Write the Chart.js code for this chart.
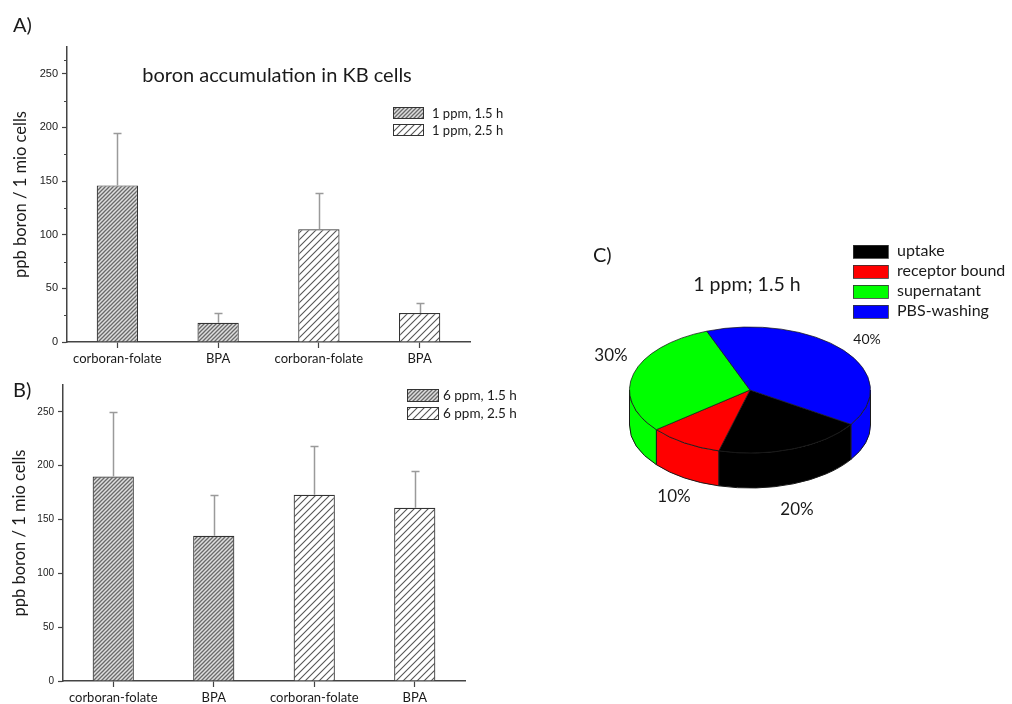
<!DOCTYPE html>
<html>
<head>
<meta charset="utf-8">
<title>Boron accumulation in KB cells</title>
<script src="https://cdn.jsdelivr.net/npm/chart.js@4.4.1/dist/chart.umd.min.js"></script>
<style>
  html, body { margin: 0; padding: 0; background: #fff; }
  #page { position: relative; width: 1012px; height: 704px; overflow: hidden; background: #fff; }
  canvas { position: absolute; }
  .tag { position: absolute; font-family: Lato, 'Open Sans', sans-serif; font-size: 20px; line-height: 1; color: #1a1a1a; }
</style>
</head>
<body>
<div id="page">
  <canvas id="chartA" width="540" height="370" style="left:0;top:0"></canvas>
  <canvas id="chartB" width="540" height="334" style="left:0;top:370px"></canvas>
  <canvas id="chartC" width="432" height="300" style="left:580px;top:230px"></canvas>
  <div class="tag" style="left:13px;top:14px">A)</div>
  <div class="tag" style="left:13px;top:379px">B)</div>
  <div class="tag" style="left:593px;top:244px">C)</div>
</div>
<script>
// ---- data -------------------------------------------------------------
const categories = ['corboran-folate', 'BPA', 'corboran-folate', 'BPA'];
const yTicks = [0, 50, 100, 150, 200, 250];

// A) 1 ppm
const seriesA15 = [146, 18, null, null];   // 1 ppm, 1.5 h
const errorA15  = [49, 9, null, null];
const seriesA25 = [null, null, 105, 27];   // 1 ppm, 2.5 h
const errorA25  = [null, null, 34, 9];

// B) 6 ppm
const seriesB15 = [190, 135, null, null];  // 6 ppm, 1.5 h
const errorB15  = [60, 38, null, null];
const seriesB25 = [null, null, 173, 161];  // 6 ppm, 2.5 h
const errorB25  = [null, null, 45, 34];

// C) distribution at 1 ppm; 1.5 h (percent)
const pieLabels = ['uptake', 'receptor bound', 'supernatant', 'PBS-washing'];
const pieValues = [20, 10, 30, 40];
const pieColors = ['#000000', '#ff0000', '#00ff00', '#0000ff'];

// ---- helpers ----------------------------------------------------------
function hatch(period, bg, fg, lw) {
  const c = document.createElement('canvas');
  c.width = period; c.height = period;
  const g = c.getContext('2d');
  g.fillStyle = bg; g.fillRect(0, 0, period, period);
  g.strokeStyle = fg; g.lineWidth = lw;
  g.beginPath();
  g.moveTo(-1, period + 1); g.lineTo(period + 1, -1);
  g.moveTo(-period / 2 - 1, period / 2 + 1); g.lineTo(period / 2 + 1, -period / 2 - 1);
  g.moveTo(period / 2 - 1, period * 1.5 + 1); g.lineTo(period * 1.5 + 1, period / 2 - 1);
  g.stroke();
  return g.createPattern(c, 'repeat');
}
const denseHatch = hatch(4, '#dedede', '#6a6a6a', 1.3);
const wideHatch = hatch(7, '#ffffff', '#555555', 1.1);

// upper error whiskers taken from each dataset's `errors` list
const errorBars = {
  id: 'errorBars',
  afterDatasetsDraw(chart) {
    const ctx = chart.ctx, y = chart.scales.y;
    ctx.save();
    ctx.strokeStyle = '#9a9a9a';
    ctx.lineWidth = 1.5;
    chart.data.datasets.forEach((ds, i) => {
      const meta = chart.getDatasetMeta(i);
      ds.data.forEach((v, j) => {
        const e = ds.errors[j];
        if (v == null || e == null) return;
        const bar = meta.data[j];
        const top = Math.round(y.getPixelForValue(v + e)) + 0.5;
        const x = Math.round(bar.x) + 0.5;
        ctx.beginPath();
        ctx.moveTo(x, bar.y);
        ctx.lineTo(x, top);
        ctx.moveTo(x - 4, top);
        ctx.lineTo(x + 4, top);
        ctx.stroke();
      });
    });
    ctx.restore();
  }
};

// short unlabeled ticks halfway between the labeled ones
const minorTicks = {
  id: 'minorTicks',
  afterDraw(chart) {
    const s = chart.scales.y, ctx = chart.ctx;
    ctx.save();
    ctx.strokeStyle = '#444';
    ctx.lineWidth = 1;
    for (let k = 0; k < s.ticks.length; k++) {
      const a = s.ticks[k].value;
      const b = k + 1 < s.ticks.length ? s.ticks[k + 1].value : s.max;
      const py = Math.round(s.getPixelForValue((a + b) / 2)) + 0.5;
      ctx.beginPath();
      ctx.moveTo(s.right - 3, py);
      ctx.lineTo(s.right, py);
      ctx.stroke();
    }
    ctx.restore();
  }
};

// swatch legend placed inside the plot
function swatchLegend(x, y, w, h, row, textX, font) {
  return {
    id: 'swatchLegend',
    afterDraw(chart) {
      const ctx = chart.ctx;
      ctx.save();
      ctx.font = font;
      ctx.textBaseline = 'middle';
      ctx.textAlign = 'left';
      chart.data.datasets.forEach((ds, i) => {
        const top = y + i * row;
        ctx.fillStyle = ds.backgroundColor;
        ctx.fillRect(x, top, w, h);
        ctx.strokeStyle = '#333';
        ctx.lineWidth = 1;
        ctx.strokeRect(x + 0.5, top + 0.5, w, h);
        ctx.fillStyle = '#1a1a1a';
        ctx.fillText(ds.label, textX, top + h / 2 + 1);
      });
      ctx.restore();
    }
  };
}

// free text drawn on the canvas
function captions(items) {
  return {
    id: 'captions',
    afterDraw(chart) {
      const ctx = chart.ctx;
      ctx.save();
      items.forEach(t => {
        ctx.font = t.font;
        ctx.fillStyle = t.color || '#1a1a1a';
        ctx.textAlign = t.align || 'center';
        ctx.textBaseline = 'middle';
        ctx.fillText(t.text, t.x, t.y);
      });
      ctx.restore();
    }
  };
}

function barChart(id, cfg) {
  const common = {
    grouped: false, categoryPercentage: 1, barPercentage: 0.41,
    borderColor: '#333', borderWidth: 1.2
  };
  return new Chart(document.getElementById(id), {
    type: 'bar',
    data: {
      labels: categories,
      datasets: [
        Object.assign({ label: cfg.names[0], data: cfg.s1, errors: cfg.e1, backgroundColor: denseHatch }, common),
        Object.assign({ label: cfg.names[1], data: cfg.s2, errors: cfg.e2, backgroundColor: wideHatch }, common)
      ]
    },
    options: {
      responsive: false,
      animation: false,
      events: [],
      layout: { padding: cfg.pad },
      plugins: { legend: { display: false }, tooltip: { enabled: false } },
      scales: {
        x: {
          grid: { offset: false, drawOnChartArea: false, tickLength: 6, color: '#444', tickWidth: 1.2 },
          border: { color: '#444', width: 1.5 },
          ticks: { font: { family: 'Lato', size: 13 }, color: '#1a1a1a', padding: 3, maxRotation: 0, autoSkip: false },
          afterFit: s => { s.height = cfg.xh; }
        },
        y: {
          min: 0, max: 275,
          afterBuildTicks: s => { s.ticks = yTicks.map(v => ({ value: v })); },
          grid: { drawOnChartArea: false, tickLength: 5, color: '#444', tickWidth: 1.2 },
          border: { color: '#444', width: 1.5 },
          ticks: { font: { family: 'Liberation Sans', size: cfg.tickSize }, color: '#1a1a1a', padding: 4, autoSkip: false },
          title: {
            display: true, text: 'ppb boron / 1 mio cells',
            font: { family: 'Lato', size: 16.5 }, color: '#1a1a1a',
            padding: { top: cfg.titlePad, bottom: 0 }
          },
          afterFit: s => { s.width = cfg.yw; }
        }
      }
    },
    plugins: cfg.plugins
  });
}

// ---- A) 1 ppm ---------------------------------------------------------
barChart('chartA', {
  names: ['1 ppm, 1.5 h', '1 ppm, 2.5 h'],
  s1: seriesA15, e1: errorA15, s2: seriesA25, e2: errorA25,
  pad: { left: 0, right: 70, top: 47, bottom: 0 },
  yw: 67, xh: 28, tickSize: 11, titlePad: 11,
  plugins: [
    errorBars, minorTicks,
    swatchLegend(393, 107, 30, 11, 17, 432, '13px Lato'),
    captions([{ text: 'boron accumulation in KB cells', x: 277, y: 76, font: '20px Lato' }])
  ]
});

// ---- B) 6 ppm ---------------------------------------------------------
barChart('chartB', {
  names: ['6 ppm, 1.5 h', '6 ppm, 2.5 h'],
  s1: seriesB15, e1: errorB15, s2: seriesB25, e2: errorB25,
  pad: { left: 0, right: 75, top: 15, bottom: 0 },
  yw: 63, xh: 23, tickSize: 10, titlePad: 10,
  plugins: [errorBars, swatchLegend(407, 19, 31, 12, 18, 443, '13.5px Lato')]
});

// ---- C) tilted pie ----------------------------------------------------
const tilt = 0.523;   // vertical squash of the top face
const depth = 35;     // height of the cylinder wall in px

const pie3d = {
  id: 'pie3d',
  beforeDatasetsDraw(chart) {
    const ctx = chart.ctx;
    const arcs = chart.getDatasetMeta(0).data;
    const cx = arcs[0].x, cy = arcs[0].y, r = arcs[0].outerRadius, ry = r * tilt;
    // front wall: only the parts facing the viewer (0..PI)
    ctx.save();
    ctx.lineWidth = 1;
    ctx.strokeStyle = '#1a1a1a';
    arcs.forEach(arc => {
      for (let n = -1; n <= 2; n++) {
        const s = Math.max(arc.startAngle, 2 * Math.PI * n);
        const e = Math.min(arc.endAngle, 2 * Math.PI * n + Math.PI);
        if (e - s <= 1e-6) continue;
        ctx.beginPath();
        ctx.ellipse(cx, cy, r, ry, 0, s, e);
        ctx.ellipse(cx, cy + depth, r, ry, 0, e, s, true);
        ctx.closePath();
        ctx.fillStyle = arc.options.backgroundColor;
        ctx.fill();
        ctx.stroke();
      }
    });
    ctx.restore();
    // top face: the library's own arcs, squashed around the centre
    ctx.save();
    ctx.translate(cx, cy);
    ctx.scale(1, tilt);
    ctx.translate(-cx, -cy);
  },
  afterDatasetsDraw(chart) {
    chart.ctx.restore();
  }
};

const pieLegend = {
  id: 'pieLegend',
  afterDraw(chart) {
    const ctx = chart.ctx;
    ctx.save();
    ctx.font = '16px Lato';
    ctx.textBaseline = 'middle';
    ctx.textAlign = 'left';
    pieLabels.forEach((name, i) => {
      const top = 15 + i * 20;
      ctx.fillStyle = pieColors[i];
      ctx.fillRect(273, top, 35, 13);
      ctx.strokeStyle = '#333';
      ctx.lineWidth = 0.8;
      ctx.strokeRect(273.5, top + 0.5, 35, 13);
      ctx.fillStyle = '#1a1a1a';
      ctx.fillText(name, 317, top + 6);
    });
    ctx.restore();
  }
};

// percent labels placed around the disc, one per slice
const percentSpots = [
  { x: 217, y: 280, size: 17 },
  { x: 94, y: 267, size: 17 },
  { x: 31, y: 126, size: 17 },
  { x: 287, y: 109, size: 14 }
];
const percentLabels = {
  id: 'percentLabels',
  afterDraw(chart) {
    const ctx = chart.ctx;
    ctx.save();
    ctx.fillStyle = '#1a1a1a';
    ctx.textAlign = 'center';
    ctx.textBaseline = 'middle';
    chart.data.datasets[0].data.forEach((v, i) => {
      const p = percentSpots[i];
      ctx.font = p.size + 'px Lato';
      ctx.fillText(v + '%', p.x, p.y);
    });
    ctx.restore();
  }
};

new Chart(document.getElementById('chartC'), {
  type: 'pie',
  data: {
    labels: pieLabels,
    datasets: [{
      data: pieValues,
      backgroundColor: pieColors,
      borderColor: '#1a1a1a',
      borderWidth: 1,
      clip: false
    }]
  },
  options: {
    responsive: false,
    animation: false,
    events: [],
    rotation: 123,
    layout: { padding: { left: 49, right: 141, top: 39, bottom: 19 } },
    plugins: { legend: { display: false }, tooltip: { enabled: false } }
  },
  plugins: [
    pie3d, pieLegend, percentLabels,
    captions([{ text: '1 ppm; 1.5 h', x: 167, y: 55, font: '19.5px Lato' }])
  ]
});
</script>
</body>
</html>
